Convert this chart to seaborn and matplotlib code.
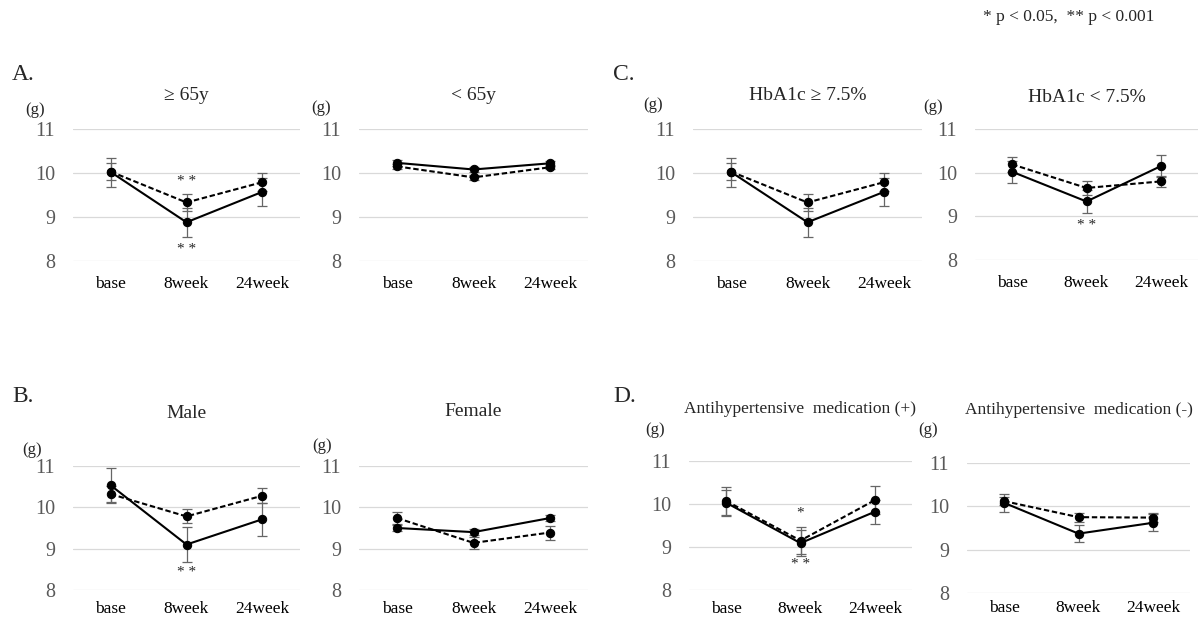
import pandas as pd
import matplotlib.pyplot as plt
import seaborn as sns

# time points
times = ['base', '8week', '24week']

# A. age
age_over65_solid = [10.02, 8.88, 9.57]
age_over65_solid_err = [0.33, 0.33, 0.32]
age_over65_dashed = [10.03, 9.33, 9.79]
age_over65_dashed_err = [0.20, 0.20, 0.20]
age_under65_solid = [10.23, 10.08, 10.22]
age_under65_solid_err = [0.06, 0.06, 0.06]
age_under65_dashed = [10.15, 9.90, 10.13]
age_under65_dashed_err = [0.05, 0.05, 0.05]

# B. sex
male_solid = [10.53, 9.10, 9.71]
male_solid_err = [0.42, 0.42, 0.40]
male_dashed = [10.32, 9.78, 10.28]
male_dashed_err = [0.19, 0.17, 0.18]
female_solid = [9.50, 9.40, 9.74]
female_solid_err = [0.07, 0.08, 0.08]
female_dashed = [9.74, 9.14, 9.39]
female_dashed_err = [0.15, 0.15, 0.17]

# C. HbA1c
hba1c_high_solid = [10.02, 8.88, 9.57]
hba1c_high_solid_err = [0.33, 0.33, 0.32]
hba1c_high_dashed = [10.03, 9.33, 9.79]
hba1c_high_dashed_err = [0.20, 0.20, 0.20]
hba1c_low_solid = [10.02, 9.34, 10.15]
hba1c_low_solid_err = [0.25, 0.26, 0.25]
hba1c_low_dashed = [10.19, 9.65, 9.80]
hba1c_low_dashed_err = [0.17, 0.17, 0.12]

# D. antihypertensive medication
aht_pos_solid = [10.03, 9.09, 9.82]
aht_pos_solid_err = [0.30, 0.30, 0.28]
aht_pos_dashed = [10.07, 9.15, 10.09]
aht_pos_dashed_err = [0.32, 0.32, 0.32]
aht_neg_solid = [10.08, 9.37, 9.62]
aht_neg_solid_err = [0.20, 0.20, 0.20]
aht_neg_dashed = [10.12, 9.75, 9.74]
aht_neg_dashed_err = [0.10, 0.10, 0.10]

titles = ['\u2265 65y', '< 65y', 'HbA1c \u2265 7.5%', 'HbA1c < 7.5%',
          'Male', 'Female', 'Antihypertensive  medication (+)',
          'Antihypertensive  medication (-)']

# significance marks: (panel, time, y, text)
stars = [(0, '8week', 9.80, '* *'), (0, '8week', 8.27, '* *'),
         (3, '8week', 8.80, '* *'), (4, '8week', 8.42, '* *'),
         (6, '8week', 9.78, '*'), (6, '8week', 8.60, '* *')]

panels = [
    (age_over65_solid, age_over65_solid_err, age_over65_dashed, age_over65_dashed_err),
    (age_under65_solid, age_under65_solid_err, age_under65_dashed, age_under65_dashed_err),
    (hba1c_high_solid, hba1c_high_solid_err, hba1c_high_dashed, hba1c_high_dashed_err),
    (hba1c_low_solid, hba1c_low_solid_err, hba1c_low_dashed, hba1c_low_dashed_err),
    (male_solid, male_solid_err, male_dashed, male_dashed_err),
    (female_solid, female_solid_err, female_dashed, female_dashed_err),
    (aht_pos_solid, aht_pos_solid_err, aht_pos_dashed, aht_pos_dashed_err),
    (aht_neg_solid, aht_neg_solid_err, aht_neg_dashed, aht_neg_dashed_err),
]

# layout in pixels: left, top, right, bottom, title y, (g) dx, (g) y, xlabel pad
W, H = 1204, 619
boxes = [(73, 129, 300, 261, 95, -38, 110, 11),
         (359, 129, 588, 261, 95, -38, 108, 11),
         (693, 129, 922, 261, 95, -40, 105, 11),
         (975, 129, 1198, 260, 97, -42, 107, 11),
         (73, 466, 300, 590, 414, -41, 450, 8),
         (359, 466, 588, 590, 412, -37, 446, 8),
         (689, 461, 912, 590, 409, -34, 430, 8),
         (967, 463, 1190, 593, 410, -39, 430, 5)]

sns.set_theme(style='white')
plt.rcParams['font.family'] = ['Liberation Serif', 'DejaVu Serif']

fig = plt.figure(figsize=(W / 100, H / 100), dpi=100)

for i, (vals, box) in enumerate(zip(panels, boxes)):
    s, s_err, d, d_err = vals
    left, top, right, bottom, ty, gdx, gy, xpad = box
    ax = fig.add_axes([left / W, 1 - bottom / H, (right - left) / W, (bottom - top) / H])

    df = pd.DataFrame({
        'time': times * 2,
        'value': s + d,
        'group': ['solid'] * 3 + ['dashed'] * 3,
    })

    for y, e in [(s, s_err), (d, d_err)]:
        ax.errorbar(times, y, yerr=e, fmt='none', ecolor='#666666', elinewidth=0.9,
                    capsize=3.5, capthick=0.9, zorder=1, clip_on=False)

    sns.lineplot(data=df, x='time', y='value', style='group', sort=False,
                 dashes={'solid': '', 'dashed': (2.6, 1.3)},
                 markers={'solid': 'o', 'dashed': 'o'},
                 color='black', linewidth=1.5, markersize=6,
                 markeredgecolor='black', legend=False, ax=ax, zorder=3)

    ax.set_xlim(-0.5, 2.5)
    ax.set_ylim(8, 11)
    ax.set_yticks([8, 9, 10, 11])
    ax.grid(axis='y', color='#d9d9d9', linewidth=0.9, zorder=0)
    ax.grid(axis='x', visible=False)
    sns.despine(ax=ax, left=True, bottom=True)
    ax.tick_params(axis='y', length=0, pad=13, labelsize=14.5, labelcolor='#595959')
    ax.tick_params(axis='x', length=0, pad=xpad, labelsize=12.5, labelcolor='black')
    ax.set_xlabel('')
    ax.set_ylabel('')

    fig.text((left + right) / 2 / W, 1 - ty / H, titles[i], ha='center', va='center',
             fontsize=14 if i < 6 else 12.5)
    fig.text((left + gdx) / W, 1 - gy / H, '(g)', ha='center', va='center', fontsize=12)

    for p, t, y, txt in stars:
        if p == i:
            ax.text(t, y, txt, ha='center', va='center', fontsize=11)

for letter, x, y in [('A.', 12, 74), ('C.', 613, 74), ('B.', 12, 397), ('D.', 613, 397)]:
    fig.text(x / W, 1 - y / H, letter, ha='left', va='center', fontsize=17)

fig.text(983 / W, 1 - 17 / H, '* p < 0.05,  ** p < 0.001', ha='left', va='center', fontsize=12.5)

plt.savefig('out.png', dpi=100)
